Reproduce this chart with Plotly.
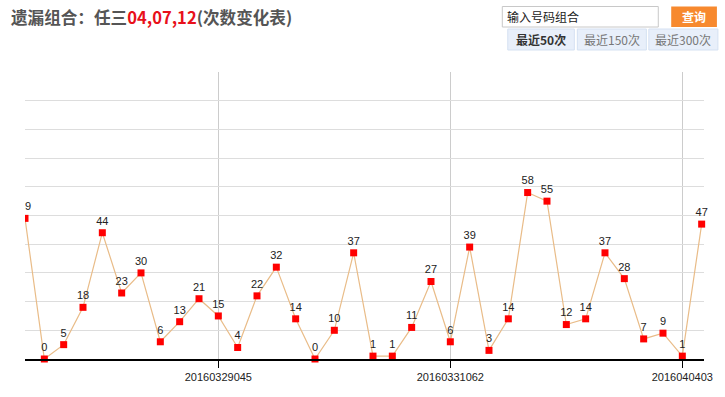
import plotly.graph_objects as go

# ---- data ----
values = [49, 0, 5, 18, 44, 23, 30, 6, 13, 21, 15, 4, 22, 32, 14, 0, 10, 37, 1, 1,
          11, 27, 6, 39, 3, 14, 58, 55, 12, 14, 37, 28, 7, 9, 1, 47]
tick_positions = [10, 22, 34]
tick_labels = ["20160329045", "20160331062", "2016040403"]
title_prefix = "遗漏组合：任三"
title_numbers = "04,07,12"
title_suffix = "(次数变化表)"
input_placeholder = "输入号码组合"
button_label = "查询"
tab_labels = ["最近50次", "最近150次", "最近300次"]

x_idx = list(range(len(values)))

W, H = 725, 397
L, R, T, B = 24.6, 708.0, 72.0, 359.0
STEP = (685 - 218) / 24


def px(x):
    return (x - L) / (R - L)


def py(y):
    return (B - y) / (B - T)


fig = go.Figure()
fig.add_trace(go.Scatter(
    x=x_idx, y=values, mode="lines+markers+text",
    text=[str(v) for v in values], textposition="top center",
    textfont=dict(family="Liberation Sans, Arial", size=11, color="#222"),
    line=dict(color="#E9BC88", width=1.2),
    marker=dict(symbol="square", size=7, color="#FF0000"),
    cliponaxis=False, hoverinfo="skip", showlegend=False,
))

shapes = []
annotations = []

# mask left of plot area (the chart is cut at its left edge)
shapes.append(dict(type="rect", xref="paper", yref="paper",
                   x0=px(0), x1=0, y0=py(B + 2), y1=py(60),
                   line=dict(width=0), fillcolor="white", layer="above"))

# header: input box
shapes.append(dict(type="rect", xref="paper", yref="paper",
                   x0=px(505), x1=px(662), y0=py(27), y1=py(6.5),
                   line=dict(color="#C8C8C8", width=1), fillcolor="white", layer="above"))
annotations.append(dict(xref="paper", yref="paper", x=px(508), y=py(16.5),
                        xanchor="left", yanchor="middle", showarrow=False,
                        text=input_placeholder,
                        font=dict(family="Noto Sans CJK SC", size=12, color="#222")))
# button
shapes.append(dict(type="rect", xref="paper", yref="paper",
                   x0=px(675), x1=px(721), y0=py(27), y1=py(6.5),
                   line=dict(color="#F5862A", width=0), fillcolor="#F7892E", layer="above"))
annotations.append(dict(xref="paper", yref="paper", x=px(698), y=py(16.5),
                        xanchor="center", yanchor="middle", showarrow=False,
                        text="<b>" + button_label + "</b>",
                        font=dict(family="Noto Sans CJK SC", size=12, color="white")))
# tabs
tab_x = [(510.5, 577.5), (580.5, 650), (652.5, 722)]
for i, (lab, (a, b)) in enumerate(zip(tab_labels, tab_x)):
    shapes.append(dict(type="rect", xref="paper", yref="paper",
                       x0=px(a), x1=px(b), y0=py(50), y1=py(29),
                       line=dict(color="#D5E1F2", width=1), fillcolor="#E8EFFA", layer="above"))
    annotations.append(dict(xref="paper", yref="paper", x=px((a + b) / 2), y=py(39.5),
                            xanchor="center", yanchor="middle", showarrow=False,
                            text=("<b>" + lab + "</b>") if i == 0 else lab,
                            font=dict(family="Noto Sans CJK SC", size=12,
                                      color="#333" if i == 0 else "#777")))

# title
annotations.append(dict(xref="paper", yref="paper", x=px(8), y=py(17),
                        xanchor="left", yanchor="middle", showarrow=False,
                        text="<b>" + title_prefix + "<span style='color:#E8101A'>" + title_numbers
                             + "</span>" + title_suffix + "</b>",
                        font=dict(family="Noto Sans CJK SC", size=16.6, color="#555")))

fig.update_layout(
    width=W, height=H,
    margin=dict(l=L, r=W - R, t=T, b=H - B),
    paper_bgcolor="white", plot_bgcolor="white",
    shapes=shapes, annotations=annotations,
    xaxis=dict(range=[0, (R - L) / STEP], tickmode="array",
               tickvals=tick_positions, ticktext=tick_labels,
               showgrid=True, gridcolor="#CCCCCC", gridwidth=1,
               ticks="outside", ticklen=7, tickcolor="#000", tickwidth=1,
               showline=True, linecolor="#000", linewidth=2, zeroline=False,
               tickfont=dict(family="Liberation Sans, Arial", size=11, color="#222")),
    yaxis=dict(range=[0, 100], dtick=10, showgrid=True, gridcolor="#DDDDDD",
               gridwidth=1, showticklabels=False, zeroline=False, showline=False),
)

fig.write_html("out.html", config={"displayModeBar": False},
               post_script="document.body.style.margin='0';document.body.style.overflow='hidden';")
